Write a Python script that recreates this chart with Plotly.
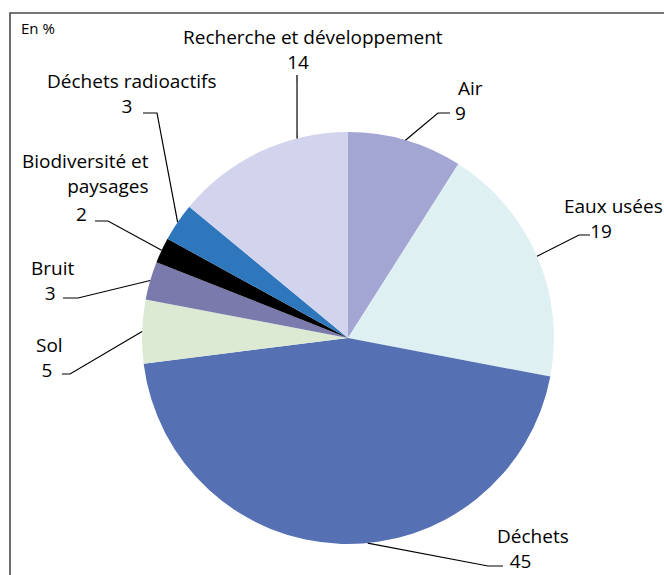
import math
import plotly.graph_objects as go

# ---- data ----
categories = ["Air", "Eaux usées", "Déchets", "Sol", "Bruit",
              "Biodiversité et paysages", "Déchets radioactifs",
              "Recherche et développement"]
values = [9, 19, 45, 5, 3, 2, 3, 14]
colors = ["#a3a5d3", "#dff0f3", "#5670b4", "#dce9d3", "#7a7aad",
          "#000000", "#2e77bd", "#d2d3ed"]

# ---- layout (pixel units of the 664x575 page) ----
W, H = 664, 575
PIE_LEFT, PIE_RIGHT, PIE_TOP, PIE_BOTTOM = 142, 554, 132, 544
FONT = "Open Sans"
FS = 19
NBSP = "\u00a0"

# label block: name on first line(s), value on the last line
name_text = ["Air", "Eaux usées", "Déchets", "Sol", "Bruit",
             "Biodiversité et<br>paysages", "Déchets radioactifs",
             "Recherche et développement"]
# centre of the label block (x, y) in px
label_pos = [(470, 100), (613, 218), (533, 548), (49, 357), (52, 281),
             (151, 174), (132, 94), (313, 50)]
label_anchor = ["center", "center", "center", "center", "center",
                "right", "center", "center"]
value_pad = [4, 5, 5, 1, 1, 0, 2, 6]          # shifts the value line left
value_separate = [False, False, False, False, False, True, False, False]
value_sep_pos = [None, None, None, None, None, (81, 214), None, None]
elbow_pos = [(438, 113), (579, 235), (488, 566), (70, 374), (78, 298),
             (108, 221), (157, 113), (297, 75)]
end_pos = [(450, 113), (590, 235), (503, 566), (62, 374), (63, 298),
           (95, 221), (143, 113), (297, 75)]
leader_frac = [0.5, 0.5, 0.455, 0.5, 0.5, 0.5, 0.5, 0.716]


def px(x):
    return x / W


def py(y):
    return 1 - y / H


fig = go.Figure(go.Pie(
    labels=categories, values=values, sort=False, direction="clockwise",
    rotation=0, marker=dict(colors=colors, line=dict(width=0)),
    textinfo="none", hoverinfo="label+value", showlegend=False,
    domain=dict(x=[px(PIE_LEFT), px(PIE_RIGHT)], y=[py(PIE_BOTTOM), py(PIE_TOP)]),
))

cx = (PIE_LEFT + PIE_RIGHT) / 2
cy = (PIE_TOP + PIE_BOTTOM) / 2
r = (PIE_RIGHT - PIE_LEFT) / 2
total = sum(values)

shapes = []
annotations = []
cum = 0
for i, v in enumerate(values):
    a0 = cum / total * 360
    a1 = (cum + v) / total * 360
    cum += v
    th = math.radians(a0 + leader_frac[i] * (a1 - a0))
    ax = cx + r * math.sin(th)
    ay = cy - r * math.cos(th)
    pts = [(ax, ay), elbow_pos[i], end_pos[i]]
    path = "M " + " L ".join(f"{px(x):.5f},{py(y):.5f}" for x, y in pts)
    shapes.append(dict(type="path", xref="paper", yref="paper", path=path,
                       line=dict(color="#000000", width=1.2)))
    lx, ly = label_pos[i]
    font = dict(family=FONT, size=FS, color="#000000")
    if value_separate[i]:
        annotations.append(dict(x=px(lx), y=py(ly), xref="paper", yref="paper",
                                text=name_text[i], showarrow=False,
                                xanchor=label_anchor[i], yanchor="middle",
                                align=label_anchor[i], font=font))
        vx, vy = value_sep_pos[i]
        annotations.append(dict(x=px(vx), y=py(vy), xref="paper", yref="paper",
                                text=str(v), showarrow=False,
                                xanchor="center", yanchor="middle", font=font))
    else:
        text = f"{name_text[i]}<br>{v}{NBSP * value_pad[i]}"
        annotations.append(dict(x=px(lx), y=py(ly), xref="paper", yref="paper",
                                text=text, showarrow=False,
                                xanchor=label_anchor[i], yanchor="middle",
                                align="center", font=font))

annotations.append(dict(x=px(19), y=py(28), xref="paper", yref="paper",
                        text="En %", showarrow=False, xanchor="left", yanchor="middle",
                        font=dict(family=FONT, size=15, color="#000000")))

# frame (top and left edges visible)
shapes.append(dict(type="path", xref="paper", yref="paper",
                   path=f"M {px(10)},{py(600)} L {px(10)},{py(13)} L {px(700)},{py(13)}",
                   line=dict(color="#4a4a4a", width=1.6)))

fig.update_layout(width=W, height=H, margin=dict(l=0, r=0, t=0, b=0),
                  paper_bgcolor="white", plot_bgcolor="white",
                  shapes=shapes, annotations=annotations)

fig.write_html("out.html", config={"displayModeBar": False},
               post_script="document.body.style.margin='0';document.body.style.overflow='hidden';")
